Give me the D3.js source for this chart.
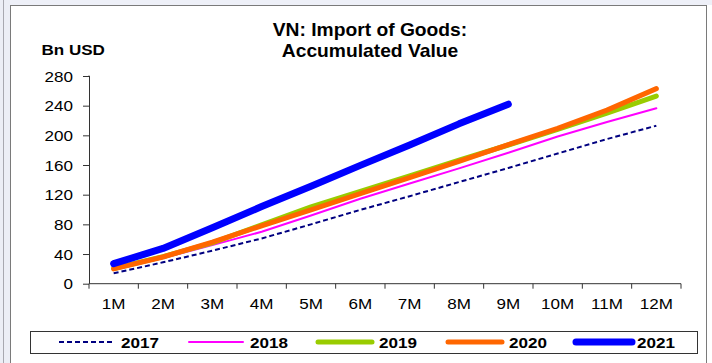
<!DOCTYPE html>
<html>
<head>
<meta charset="utf-8">
<script src="https://cdn.jsdelivr.net/npm/d3@7"></script>
<style>
  html, body { margin: 0; padding: 0; background: #ffffff; }
  svg { display: block; }
  text { font-family: Arial, "Liberation Sans", sans-serif; fill: #000; }
</style>
</head>
<body>
<script>
// Vietnam: cumulative value of imported goods, billion USD
const months = ["1M","2M","3M","4M","5M","6M","7M","8M","9M","10M","11M","12M"];
const yTicks = [0, 40, 80, 120, 160, 200, 240, 280];
const seriesNames = ["2017", "2018", "2019", "2020", "2021"];
const v2017 = [14.0, 28.8, 44.5, 61.0, 80.0, 99.5, 118.0, 137.0, 156.0, 175.5, 195.0, 213.0];
const v2018 = [19.0, 34.5, 52.0, 70.0, 92.0, 114.5, 135.0, 155.5, 176.5, 198.5, 218.0, 236.5];
const v2019 = [20.5, 36.5, 55.0, 79.5, 103.5, 124.5, 145.5, 166.5, 187.0, 208.0, 230.0, 253.0];
const v2020 = [20.0, 36.0, 56.0, 78.0, 99.5, 121.5, 143.0, 165.0, 187.5, 209.5, 234.0, 263.0];
const v2021 = [27.0, 47.5, 75.5, 104.0, 131.5, 159.5, 187.0, 215.5, 242.0];

const W = 712, H = 363;
const svg = d3.select("body").append("svg").attr("width", W).attr("height", H);

// page surroundings
svg.append("rect").attr("x", 0).attr("y", 0).attr("width", W).attr("height", 5).attr("fill", "#eef0f8");
svg.append("rect").attr("x", 0).attr("y", 0).attr("width", 10).attr("height", H).attr("fill", "#eceef6");
svg.append("line").attr("x1", 3.5).attr("x2", 3.5).attr("y1", 0).attr("y2", H)
  .attr("stroke", "#a8a8b0").attr("stroke-width", 1);

// chart frame
svg.append("rect").attr("x", 10.5).attr("y", 5.5).attr("width", 696).attr("height", H + 10)
  .attr("fill", "#ffffff").attr("stroke", "#7a7a7a").attr("stroke-width", 1);

// text helper: slightly widened glyphs
function label(x, y, str, size, weight, anchor, sx) {
  return svg.append("text")
    .attr("transform", `translate(${x},${y}) scale(${sx},1)`)
    .attr("text-anchor", anchor)
    .style("font-size", size + "px")
    .style("font-weight", weight)
    .text(str);
}

const x = d3.scaleBand().domain(months).range([89, 681]).padding(0);
const y = d3.scaleLinear().domain([0, 280]).range([283.7, 76]);

// titles
label(370, 36, "VN: Import of Goods:", 17.5, "bold", "middle", 1.1);
label(370, 56.5, "Accumulated Value", 17.5, "bold", "middle", 1.1);
label(41.5, 54.5, "Bn USD", 15.5, "bold", "start", 1.1);

// y axis
const yAxis = svg.append("g").attr("transform", "translate(89,0)")
  .call(d3.axisLeft(y).tickValues(yTicks).tickSize(6).tickPadding(0).tickFormat(""));
yAxis.select(".domain").attr("stroke", "#333").attr("d", `M-0.5,${y(280)}H0.5V${y(0)}`);
yAxis.selectAll(".tick line").attr("stroke", "#333");
yTicks.forEach(t => label(73, y(t) + 5.5, String(t), 15.5, "normal", "end", 1.1));

// x axis with tick marks at band boundaries
const xAxisG = svg.append("g").attr("transform", `translate(0,${y(0)})`);
xAxisG.append("line").attr("x1", 89).attr("x2", 681).attr("y1", 0).attr("y2", 0).attr("stroke", "#333");
const bounds = months.map(m => x(m)).concat([x.range()[1]]);
xAxisG.selectAll("line.tk").data(bounds).join("line").attr("class", "tk")
  .attr("x1", d => d).attr("x2", d => d).attr("y1", 0).attr("y2", 5).attr("stroke", "#333");
months.forEach(m => label(x(m) + x.bandwidth() / 2, 308.5, m, 15.5, "normal", "middle", 1.1));

// series
const styles = {
  "2017": { color: "#000080", width: 2, dash: "5,3", cap: "butt" },
  "2018": { color: "#ff00ff", width: 2, dash: null, cap: "round" },
  "2019": { color: "#99cc00", width: 5, dash: null, cap: "round" },
  "2020": { color: "#ff6600", width: 5, dash: null, cap: "round" },
  "2021": { color: "#0000ff", width: 7, dash: null, cap: "round" }
};
const dataBy = { "2017": v2017, "2018": v2018, "2019": v2019, "2020": v2020, "2021": v2021 };
const line = d3.line().x((d, i) => x(months[i]) + x.bandwidth() / 2).y(d => y(d));

seriesNames.forEach(name => {
  const s = styles[name];
  svg.append("path").datum(dataBy[name])
    .attr("d", line).attr("fill", "none")
    .attr("stroke", s.color).attr("stroke-width", s.width)
    .attr("stroke-dasharray", s.dash)
    .attr("stroke-linecap", s.cap).attr("stroke-linejoin", "round");
});

// legend
svg.append("rect").attr("x", 30.5).attr("y", 331.5).attr("width", 667).attr("height", 22)
  .attr("fill", "#ffffff").attr("stroke", "#333").attr("stroke-width", 1);
const legendPos = [
  { x1: 59, x2: 115, tx: 121 },
  { x1: 189, x2: 243, tx: 250 },
  { x1: 318, x2: 372, tx: 379 },
  { x1: 448, x2: 502, tx: 509 },
  { x1: 576, x2: 632, tx: 637 }
];
seriesNames.forEach((name, i) => {
  const s = styles[name], p = legendPos[i];
  svg.append("line").attr("x1", p.x1).attr("x2", p.x2).attr("y1", 342).attr("y2", 342)
    .attr("stroke", s.color).attr("stroke-width", s.width)
    .attr("stroke-dasharray", s.dash).attr("stroke-linecap", s.cap);
  label(p.tx, 347.5, name, 15.5, "bold", "start", 1.1);
});
</script>
</body>
</html>
